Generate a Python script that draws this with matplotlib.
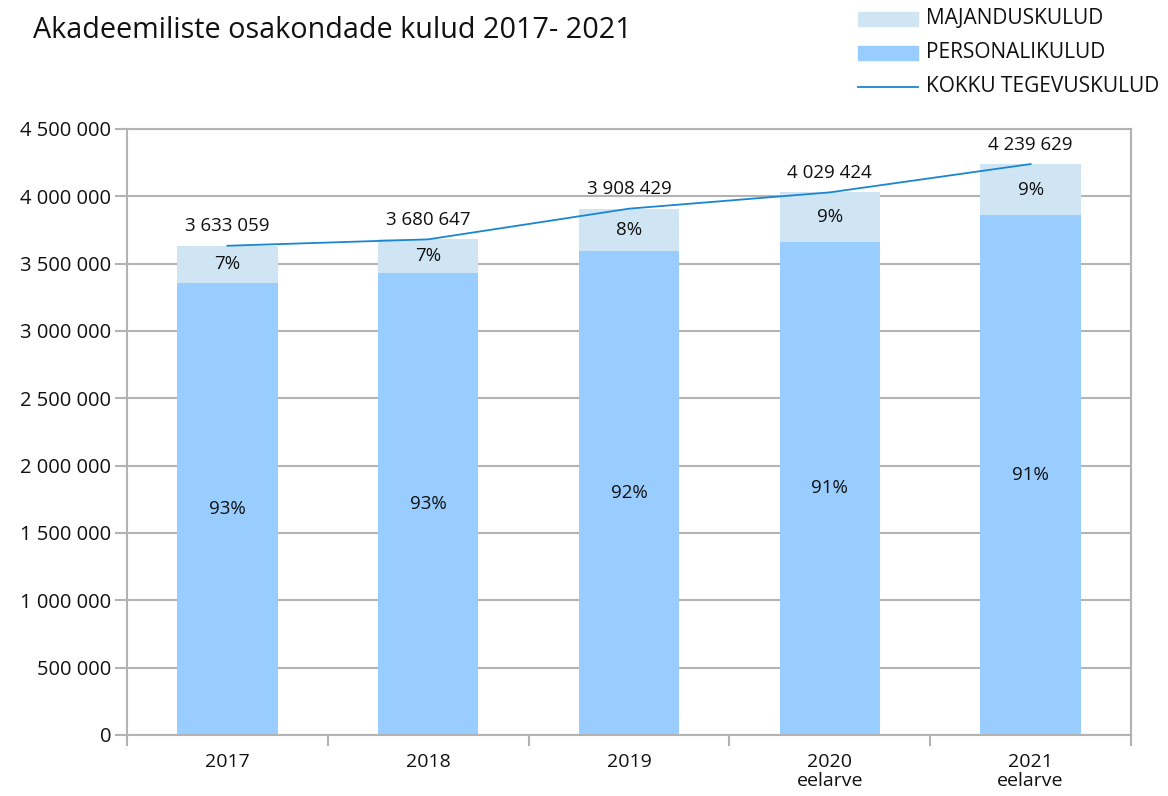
import matplotlib
matplotlib.use("Agg")
import matplotlib.pyplot as plt
from matplotlib.patches import Rectangle
from matplotlib.lines import Line2D
from matplotlib.ticker import FuncFormatter

plt.rcParams['font.family'] = ['Open Sans', 'DejaVu Sans']

categories = ["2017", "2018", "2019", "2020\neelarve", "2021\neelarve"]
total = [3633059, 3680647, 3908429, 4029424, 4239629]
personal = [3360000, 3430000, 3594000, 3661000, 3861000]
pct_personal = ["93%", "93%", "92%", "91%", "91%"]
pct_majandus = ["7%", "7%", "8%", "9%", "9%"]
total_labels = ["3 633 059", "3 680 647", "3 908 429", "4 029 424", "4 239 629"]
majandus = [t - p for t, p in zip(total, personal)]

c_maj = "#cfe5f4"
c_pers = "#99ccff"
c_line = "#1a86d0"
c_grid = "#b3b3b3"
c_text = "#111111"

fig = plt.figure(figsize=(11.68, 7.96), dpi=100)
ax = fig.add_axes([127/1168, 1-735/796, (1131-127)/1168, (735-129)/796])

x = list(range(len(categories)))
ax.bar(x, personal, width=0.5, color=c_pers, zorder=2)
ax.bar(x, majandus, width=0.5, bottom=personal, color=c_maj, zorder=2)
ax.plot(x, total, color=c_line, lw=1.3, zorder=3)

for i in x:
    ax.text(i, personal[i]/2, pct_personal[i], ha='center', va='center', fontsize=13.5, color=c_text, zorder=4)
    ax.text(i, personal[i] + majandus[i]/2, pct_majandus[i], ha='center', va='center', fontsize=13.5, color=c_text, zorder=4)
    ax.annotate(total_labels[i], (i, total[i]), xytext=(0, 14), textcoords='offset points',
                ha='center', va='center', fontsize=13.5, color=c_text, zorder=4)

ax.set_xlim(-0.5, len(categories) - 0.5)
ax.set_ylim(0, 4500000)
ax.set_yticks(range(0, 4500001, 500000))
ax.yaxis.set_major_formatter(FuncFormatter(lambda v, p: "0" if v == 0 else f"{int(v):,}".replace(",", " ")))
ax.set_xticks(x)
ax.set_xticklabels(categories)
ax.set_xticks([i - 0.5 for i in range(len(categories) + 1)], minor=True)
ax.tick_params(axis='x', which='major', length=0, pad=13, labelsize=14, labelcolor=c_text)
ax.tick_params(axis='x', which='minor', length=8, width=1.5, color=c_grid)
ax.tick_params(axis='y', length=8.5, width=1.5, color=c_grid, labelsize=14.5, pad=3, labelcolor=c_text)
for lab in ax.get_xticklabels():
    lab.set_linespacing(1.1)

ax.grid(axis='y', color=c_grid, lw=1.5, zorder=0)
ax.set_axisbelow(True)
for s in ax.spines.values():
    s.set_color(c_grid)
    s.set_linewidth(1.5)

fig.text(33/1168, 1-30/796, "Akadeemiliste osakondade kulud 2017- 2021", fontsize=20.7, va='center', ha='left', color=c_text)

# legend
items = [("MAJANDUSKULUD", 'patch', c_maj, 19), ("PERSONALIKULUD", 'patch', c_pers, 53), ("KOKKU TEGEVUSKULUD", 'line', c_line, 87)]
for label, kind, col, yc in items:
    yf = 1 - yc/796
    if kind == 'patch':
        fig.patches.append(Rectangle((858/1168, yf - 7/796), 60/1168, 14/796, transform=fig.transFigure, color=col))
    else:
        fig.lines.append(Line2D([858/1168, 918/1168], [yf, yf], transform=fig.transFigure, color=col, lw=1.3))
    fig.text(926/1168, yf, label, fontsize=15, va='center', ha='left', color=c_text)

fig.savefig("out.png", dpi=100)
